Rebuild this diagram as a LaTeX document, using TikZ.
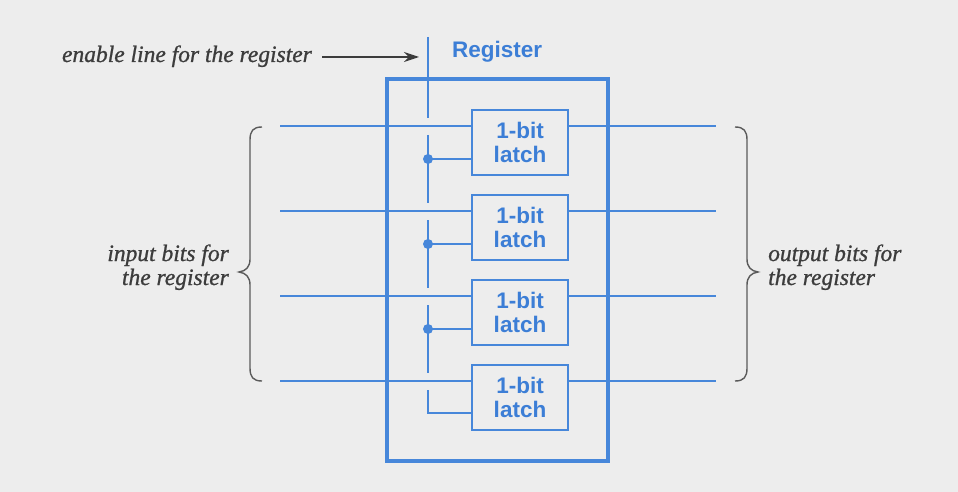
\documentclass[tikz,border=0pt]{standalone}
\usepackage{fontspec}
\setmainfont{Liberation Serif}
\newfontfamily\hvfont{Liberation Sans}
\newfontfamily\labfont{Liberation Serif}[FakeBold=0.9]
\usetikzlibrary{arrows.meta}
\definecolor{bg}{HTML}{EDEDED}
\definecolor{regblue}{HTML}{4787DA}
\definecolor{txtblue}{HTML}{3C7ED6}
\definecolor{labgray}{HTML}{3C3C3C}
\definecolor{bracegray}{HTML}{5A5A5A}
\tikzset{
  wire/.style={draw=regblue, line width=2pt},
  latchbox/.style={draw=regblue, line width=2pt, minimum width=96pt, minimum height=65pt,
    inner sep=0pt, align=center, text=txtblue, font=\hvfont\bfseries\fontsize{22.5}{24}\selectfont},
  regbox/.style={draw=regblue, line width=3.4pt},
  dotjn/.style={circle, fill=regblue, inner sep=0pt, minimum size=10pt},
  lab/.style={text=labgray, font=\labfont\itshape\fontsize{23.5}{24}\selectfont, inner sep=0pt},
  bracepath/.style={draw=bracegray, line width=1.4pt},
  pointer/.style={draw=labgray, line width=1.5pt, -{Stealth[length=15pt,width=10pt]}}
}
\begin{document}
\begin{tikzpicture}[x=1pt,y=-1pt]
\fill[bg] (0,0) rectangle (958,492);
\useasboundingbox (0,0) rectangle (958,492);

% register outline
\node[regbox, minimum width=221pt, minimum height=382pt, inner sep=0pt] (reg) at (497.5,270) {};
\node[anchor=base west, inner sep=0pt, text=txtblue, font=\hvfont\bfseries\fontsize{22.5}{24}\selectfont] (regt) at (452,58) {Register};

% latches
\foreach \k in {0,1,2,3}{
  \node[latchbox] (L\k) at (520,{142.5+85*\k}) {1-bit\\latch};
  \coordinate (in\k) at (280,{126+85*\k});
  \coordinate (out\k) at (716,{126+85*\k});
  \draw[wire] (in\k) -- (in\k -| L\k.west);
  \draw[wire] (L\k.east |- out\k) -- (out\k);
}

% enable line
\coordinate (entop) at (428,37);
\coordinate (g0a) at (428,118); \coordinate (g0b) at (428,135);
\coordinate (g1a) at (428,203); \coordinate (g1b) at (428,220);
\coordinate (g2a) at (428,288); \coordinate (g2b) at (428,305);
\coordinate (g3a) at (428,373); \coordinate (g3b) at (428,390);
\coordinate (enbot) at (428,413);
\draw[wire] (entop) -- (g0a);
\draw[wire] (g0b) -- (g1a);
\draw[wire] (g1b) -- (g2a);
\draw[wire] (g2b) -- (g3a);
\draw[wire] (g3b) -- (enbot) -- (enbot -| L3.west);
\foreach \k in {0,1,2}{
  \node[dotjn] (d\k) at (428,{159+85*\k}) {};
  \draw[wire] (d\k.center) -- (d\k.center -| L\k.west);
}

% labels
\node[lab, anchor=base east] (enl) at (312,62) {enable line for the register};
\coordinate (arrS) at (322,57);
\coordinate (arrE) at (419,57);
\draw[pointer] (arrS) -- (arrE);

\node[lab, anchor=base east] (inl1) at (229,261) {input bits for};
\node[lab, anchor=base east] (inl2) at (229,285) {the register};
\node[lab, anchor=base west] (outl1) at (768,261) {output bits for};
\node[lab, anchor=base west] (outl2) at (768,285) {the register};

% braces
\draw[bracepath] (262,127) .. controls (253,127) and (250,131) .. (250,140) -- (250,259)
  .. controls (250,267) and (246,271) .. (239,272)
  .. controls (246,273) and (250,277) .. (250,285) -- (250,368)
  .. controls (250,377) and (253,381) .. (262,381);
\draw[bracepath] (735,127) .. controls (744,127) and (747,131) .. (747,140) -- (747,259)
  .. controls (747,267) and (751,271) .. (758,272)
  .. controls (751,273) and (747,277) .. (747,285) -- (747,368)
  .. controls (747,377) and (744,381) .. (735,381);
\end{tikzpicture}
\end{document}
